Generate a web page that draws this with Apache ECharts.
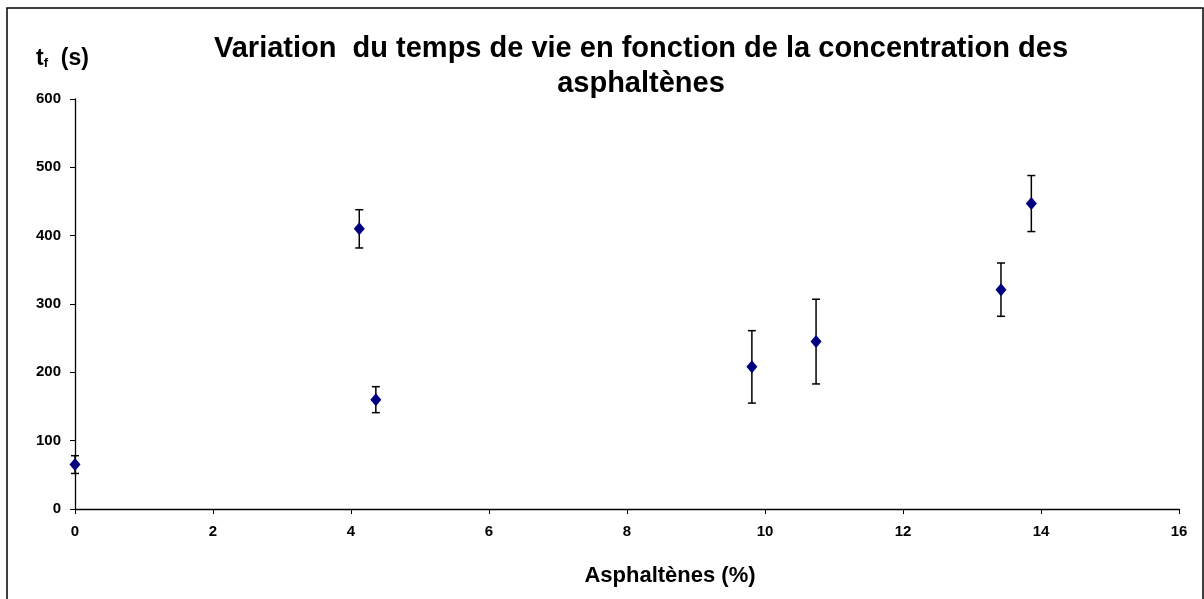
<!DOCTYPE html>
<html><head><meta charset="utf-8">
<script src="https://cdn.jsdelivr.net/npm/echarts@6/dist/echarts.min.js"></script>
<style>html,body{margin:0;padding:0;background:#fff}#c{width:1204px;height:599px}</style>
</head><body><div id="c"></div>
<script>
const xValues = [0, 4.12, 4.36, 9.81, 10.74, 13.42, 13.86];
const yValues = [65, 410, 160, 208, 245, 321, 447];
const yErrors = [13, 28, 19, 53, 62, 39, 41];
const xTicks = [0, 2, 4, 6, 8, 10, 12, 14, 16];
const yTicks = [0, 100, 200, 300, 400, 500, 600];

const points = xValues.map((x, i) => [x, yValues[i]]);
const errs = xValues.map((x, i) => [x, yValues[i] - yErrors[i], yValues[i] + yErrors[i]]);
const font = 'Liberation Sans, Arial, sans-serif';

const chart = echarts.init(document.getElementById('c'), null, {renderer: 'canvas'});
chart.setOption({
  animation: false,
  backgroundColor: '#fff',
  title: {
    text: 'Variation  du temps de vie en fonction de la concentration des\nasphaltènes',
    left: 636, top: 26, textAlign: 'center',
    textStyle: {fontFamily: font, fontWeight: 'bold', fontSize: 29, color: '#000', lineHeight: 35}
  },
  grid: {left: 75, right: 25, top: 99, bottom: 90},
  xAxis: {
    type: 'value', min: xTicks[0], max: xTicks[xTicks.length - 1], interval: 2,
    name: 'Asphaltènes (%)', nameLocation: 'middle', nameGap: 56,
    nameTextStyle: {fontFamily: font, fontWeight: 'bold', fontSize: 22, color: '#000', padding: [0, 0, 0, 86]},
    axisLine: {lineStyle: {color: '#000', width: 1.3}},
    axisTick: {length: 5, lineStyle: {color: '#000'}},
    axisLabel: {fontFamily: font, fontWeight: 'bold', fontSize: 15, color: '#000', margin: 15},
    splitLine: {show: false}
  },
  yAxis: {
    type: 'value', min: yTicks[0], max: yTicks[yTicks.length - 1], interval: 100,
    axisLine: {show: true, lineStyle: {color: '#000', width: 1.3}},
    axisTick: {show: true, length: 5, lineStyle: {color: '#000'}},
    axisLabel: {fontFamily: font, fontWeight: 'bold', fontSize: 15, color: '#000', margin: 14},
    splitLine: {show: false}
  },
  graphic: [
    {type: 'rect', shape: {x: 7, y: 8, width: 1196, height: 620}, style: {fill: 'none', stroke: '#000', lineWidth: 1.5}, silent: true, z: 100},
    {type: 'text', left: 36, top: 47, style: {
      text: '{a|t}{b|f}{a|  (s)}',
      rich: {
        a: {fontFamily: font, fontWeight: 'bold', fontSize: 23, fill: '#000'},
        b: {fontFamily: font, fontWeight: 'bold', fontSize: 13, fill: '#000', verticalAlign: 'bottom', padding: [9, 0, 0, 0]}
      }
    }}
  ],
  series: [
    {
      type: 'custom',
      data: errs,
      z: 2,
      renderItem: function (params, api) {
        const x = api.value(0);
        const lo = api.coord([x, api.value(1)]);
        const hi = api.coord([x, api.value(2)]);
        const hw = 4;
        const st = {stroke: '#000', lineWidth: 1.5};
        return {type: 'group', children: [
          {type: 'line', shape: {x1: lo[0], y1: lo[1], x2: hi[0], y2: hi[1]}, style: st},
          {type: 'line', shape: {x1: lo[0] - hw, y1: lo[1], x2: lo[0] + hw, y2: lo[1]}, style: st},
          {type: 'line', shape: {x1: hi[0] - hw, y1: hi[1], x2: hi[0] + hw, y2: hi[1]}, style: st}
        ]};
      }
    },
    {
      type: 'scatter',
      data: points,
      symbol: 'diamond',
      symbolSize: [11, 13],
      z: 3,
      itemStyle: {color: '#000080', opacity: 1}
    }
  ]
});
</script></body></html>
